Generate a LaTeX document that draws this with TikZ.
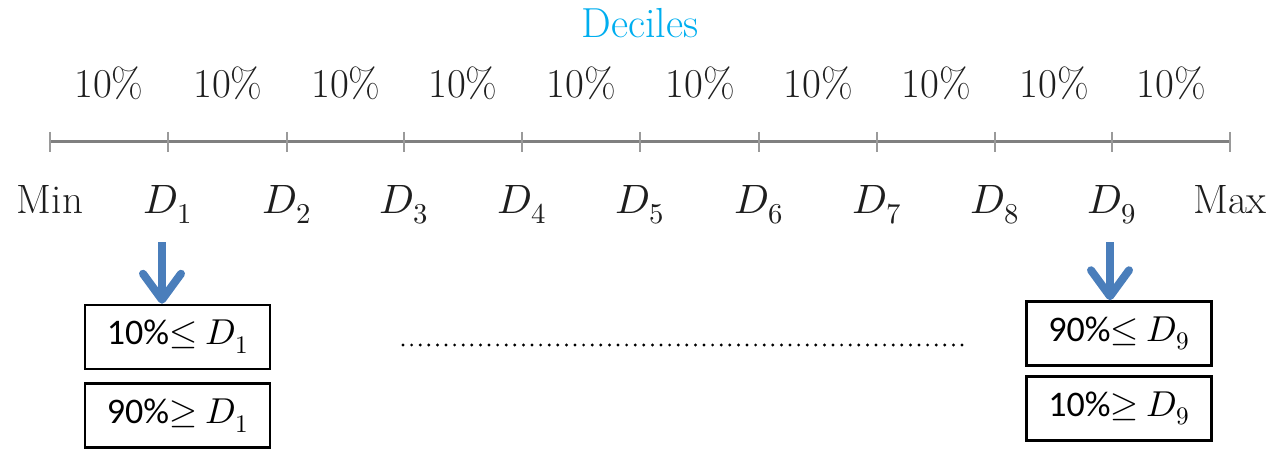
\documentclass[tikz,border=0pt]{standalone}
\usepackage{unicode-math}
\setmathfont{Latin Modern Math}
\newfontfamily\carlito{Carlito}
\usetikzlibrary{arrows.meta}
\definecolor{decblue}{RGB}{0,174,239}
\definecolor{arrblue}{RGB}{74,126,187}
\definecolor{axisgray}{RGB}{128,128,128}
\definecolor{txtgray}{RGB}{30,30,30}
\begin{document}
\begin{tikzpicture}[x=1pt,y=-1pt,
  lbl/.style={anchor=base, inner sep=0pt, text=txtgray, font=\fontsize{41}{46}\selectfont},
  axisline/.style={axisgray, line width=3pt},
  tickline/.style={axisgray!80, line width=2.5pt},
  valbox/.style={draw=black, line width=2.5pt, minimum width=185pt, minimum height=64pt, inner sep=0pt, font=\carlito\fontsize{36}{40}\selectfont},
  barrow/.style={arrblue, line width=8pt, -{Straight Barb[length=26pt,width=38pt,line cap=round,line join=round]}},
  dotline/.style={line width=3.2pt, line cap=round, dash pattern=on 0pt off 8.6pt}]
\useasboundingbox (0,0) rectangle (1276,449);
\node[anchor=base, inner sep=0pt, text=decblue, font=\fontsize{42}{46}\selectfont] (title) at (640,38) {Deciles};
% axis
\foreach \i/\x in {0/50,1/168,2/287,3/404,4/522,5/640,6/759,7/877,8/995,9/1112,10/1230}{
  \coordinate (t\i) at (\x,142);
  \coordinate (tu\i) at (\x,132);
  \coordinate (td\i) at (\x,152);
}
\draw[axisline] (t0) -- (t10);
\foreach \i in {0,...,10}{\draw[tickline] (tu\i) -- (td\i);}
% percent labels
\foreach \i/\x in {1/109,2/228,3/346,4/463,5/581,6/700,7/818,8/936,9/1054,10/1171}{
  \node[lbl] (p\i) at (\x,98) {10\%};
}
% decile labels
\node[lbl] (lmin) at (50,213) {Min};
\foreach \i/\x in {1/168,2/287,3/404,4/522,5/640,6/759,7/877,8/995,9/1112}{
  \node[lbl] (l\i) at (\x,213) {$D_{\i}$};
}
\node[lbl] (lmax) at (1230,213) {Max};
% boxes
\node[valbox] (b1) at (177.5,337) {10\%$\leq$ $D_1$};
\node[valbox] (b2) at (177.5,415.5) {90\%$\geq$ $D_1$};
\node[valbox] (b3) at (1119,333.5) {90\%$\leq$ $D_9$};
\node[valbox] (b4) at (1119,408.5) {10\%$\geq$ $D_9$};
% arrows
\coordinate (a1) at (162,242);
\coordinate (a2) at (1110,242);
\draw[barrow] (a1) -- (a1 |- b1.north);
\draw[barrow] (a2) -- (a2 |- b3.north);
% dotted line
\coordinate (d1) at (403,345);
\coordinate (d2) at (963,345);
\draw[dotline] (d1) -- (d2);
\end{tikzpicture}
\end{document}
